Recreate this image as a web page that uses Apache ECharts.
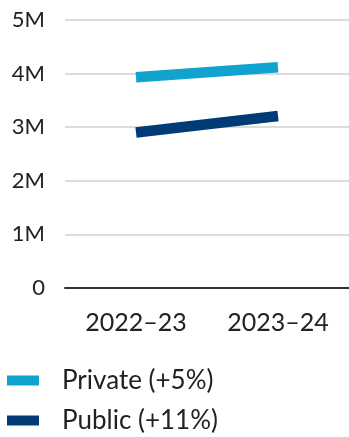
<!DOCTYPE html>
<html>
<head>
<meta charset="utf-8">
<script src="https://cdn.jsdelivr.net/npm/echarts@6/dist/echarts.min.js"></script>
<style>
  html, body { margin: 0; padding: 0; background: #fff; }
  #chart { width: 349px; height: 437px; }
</style>
</head>
<body>
<div id="chart"></div>
<script>
// School-year categories and enrolment totals (millions)
const years = ['2022–23', '2023–24'];
const privateValues = [3.93, 4.12];
const publicValues = [2.90, 3.21];
const seriesNames = ['Private (+5%)', 'Public (+11%)'];
const seriesColors = ['#10a3cd', '#003b75'];

const chart = echarts.init(document.getElementById('chart'));
const font = 'Lato';

chart.setOption({
  animation: false,
  grid: { left: 65, right: -4, top: 20, bottom: 149 },
  xAxis: {
    type: 'category',
    data: years,
    boundaryGap: true,
    axisLine: { show: true, lineStyle: { color: '#333', width: 2 } },
    axisTick: { show: false },
    axisLabel: { color: '#222', fontSize: 25, fontFamily: font, margin: 22 }
  },
  yAxis: {
    type: 'value',
    min: 0,
    max: 5,
    interval: 1,
    axisLine: { show: false },
    axisTick: { show: false },
    splitLine: { lineStyle: { color: '#dcdcdc', width: 2 } },
    axisLabel: {
      color: '#222', fontSize: 22, fontFamily: font, margin: 20,
      formatter: v => (v === 0 ? '0' : v + 'M')
    }
  },
  legend: {
    orient: 'vertical',
    left: 7,
    top: 367,
    height: 70,
    padding: 0,
    itemWidth: 32,
    itemHeight: 10,
    itemGap: 13,
    icon: 'rect',
    data: seriesNames,
    textStyle: {
      color: '#222', fontSize: 26, fontFamily: font, lineHeight: 27,
      padding: [0, 0, 0, 18]
    }
  },
  series: [
    {
      name: seriesNames[0],
      type: 'line',
      data: privateValues,
      symbol: 'none',
      color: seriesColors[0],
      lineStyle: { width: 10.5, cap: 'butt', color: seriesColors[0] }
    },
    {
      name: seriesNames[1],
      type: 'line',
      data: publicValues,
      symbol: 'none',
      color: seriesColors[1],
      lineStyle: { width: 10.5, cap: 'butt', color: seriesColors[1] }
    }
  ]
});
</script>
</body>
</html>
